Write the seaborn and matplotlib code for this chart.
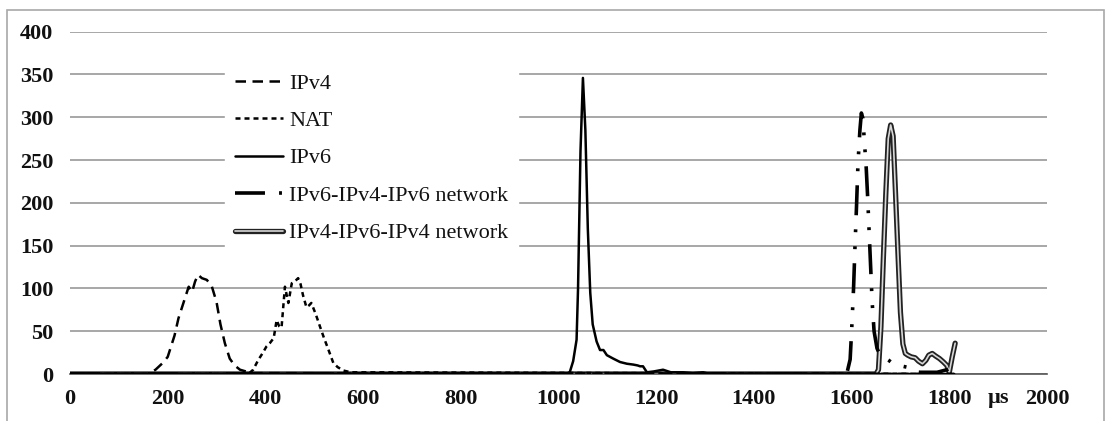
import matplotlib
matplotlib.use("Agg")
import matplotlib.pyplot as plt
import matplotlib.patheffects as pe
import seaborn as sns
import pandas as pd

# ---------------- data ----------------
ipv4_x = [0, 160, 175, 190, 200, 214, 222, 235, 243, 250, 256, 262, 270, 280, 290, 300, 308, 317, 327, 337, 348, 360, 375, 1810]
ipv4_y = [0, 0, 5, 13, 20, 45, 65, 88, 102, 96, 108, 116, 112, 110, 103, 84, 58, 36, 18, 10, 5, 3, 1, 0]

nat_x = [0, 365, 375, 385, 395, 402, 409, 417, 423, 428, 433, 440, 447, 454, 460, 467, 472, 477, 484, 489, 494, 503, 512, 520, 528, 539, 548, 560, 575, 1810]
nat_y = [0, 0, 5, 16, 25, 32, 36, 42, 63, 56, 54, 102, 83, 106, 108, 112, 105, 92, 78, 80, 83, 70, 55, 42, 30, 13, 8, 4, 2, 0]

ipv6_x = [0, 1015, 1023, 1030, 1037, 1040, 1045, 1050, 1055, 1060, 1065, 1070, 1078, 1085, 1092, 1099, 1112, 1126, 1140, 1153, 1162, 1167, 1173, 1181, 1195, 1214, 1230, 1255, 1275, 1296, 1310, 1810]
ipv6_y = [0, 0, 2, 15, 40, 100, 260, 346, 285, 170, 95, 58, 38, 28, 28, 22, 18, 14, 12, 11, 10, 9, 9, 2, 3, 5, 2, 2, 1, 2, 0, 0]

v646_x = [0, 1590, 1597, 1600, 1604, 1607, 1610, 1613, 1617, 1620, 1623, 1627, 1630, 1633, 1636, 1639, 1642, 1646, 1652, 1660, 1668, 1676, 1685, 1695, 1705, 1713, 1722, 1740, 1775, 1795, 1805, 1810]
v646_y = [0, 0, 17, 50, 100, 150, 195, 245, 285, 305, 299, 265, 240, 205, 165, 125, 85, 50, 30, 20, 19, 16, 12, 10, 9, 8, 3, 2, 2, 5, 8, 10]

v464_x = [0, 1650, 1655, 1660, 1665, 1670, 1675, 1680, 1685, 1690, 1695, 1700, 1705, 1710, 1715, 1722, 1730, 1737, 1745, 1752, 1758, 1765, 1772, 1780, 1788, 1795, 1800, 1806, 1812]
v464_y = [0, 0, 5, 55, 135, 210, 275, 291, 278, 210, 140, 72, 35, 24, 22, 20, 19, 15, 12, 16, 22, 24, 21, 18, 14, 10, 2, 20, 36]

labels = ["IPv4", "NAT", "IPv6", "IPv6-IPv4-IPv6 network", "IPv4-IPv6-IPv4 network"]
x_ticks = [0, 200, 400, 600, 800, 1000, 1200, 1400, 1600, 1800, 2000]
y_ticks = [0, 50, 100, 150, 200, 250, 300, 350, 400]
unit_label = "µs"

# ---------------- style ----------------
sns.set_style("white")
plt.rcParams["font.family"] = ["Liberation Serif", "DejaVu Serif"]

W, H = 1110, 421
fig = plt.figure(figsize=(W / 100, H / 100), dpi=100)
ax = fig.add_axes([70 / W, 47 / H, (1047 - 70) / W, (374 - 31.7) / H])

# figure border
fig.patches.append(plt.Rectangle((7 / W, -0.05), (1104 - 7) / W, (411 + 21) / H,
                                 transform=fig.transFigure, fill=False,
                                 edgecolor="#a8a8a8", lw=1.2, zorder=0))

series = [
    (ipv4_x, ipv4_y, labels[0]),
    (nat_x, nat_y, labels[1]),
    (ipv6_x, ipv6_y, labels[2]),
    (v646_x, v646_y, labels[3]),
    (v464_x, v464_y, labels[4]),
]

for xs, ys, lab in series:
    df = pd.DataFrame({"t": xs, "v": ys})
    sns.lineplot(data=df, x="t", y="v", ax=ax, estimator=None, sort=False,
                 color="black", label=lab)

lines = ax.get_lines()
# IPv4 long dash
lines[0].set_linewidth(1.8)
lines[0].set_linestyle((0, (4.2, 2.6)))
lines[0].set_zorder(4)
# NAT short dash
lines[1].set_linewidth(1.8)
lines[1].set_linestyle((0, (2.0, 1.6)))
lines[1].set_zorder(4)
# IPv6 solid
lines[2].set_linewidth(1.8)
lines[2].set_zorder(5)
# IPv6-IPv4-IPv6 dash-dot-dot thick
lines[3].set_linewidth(2.6)
lines[3].set_linestyle((0, (8.3, 3.9, 0.8, 3.9, 0.8, 3.9)))
lines[3].set_zorder(3)
# IPv4-IPv6-IPv4 double line
lines[4].set_linewidth(1.2)
lines[4].set_color("#d8d8d8")
lines[4].set_path_effects([pe.Stroke(linewidth=3.8, foreground="#222222"), pe.Normal()])
lines[4].set_zorder(2)

ax.set_xlim(0, 2000)
ax.set_ylim(0, 400)
ax.set_xticks(x_ticks)
ax.set_yticks(y_ticks)
ax.set_xticklabels([str(t) for t in x_ticks])
ax.set_yticklabels([str(t) for t in y_ticks])
ax.set_xlabel("")
ax.set_ylabel("")

ax.grid(axis="y", color="#a0a0a0", lw=1.3)
ax.grid(axis="x", visible=False)
ax.set_axisbelow(True)
for s in ["left", "right", "top"]:
    ax.spines[s].set_visible(False)
ax.spines["bottom"].set_color("#555555")
ax.spines["bottom"].set_linewidth(1.2)

ax.tick_params(axis="x", direction="out", length=5, width=1, color="#777777",
               pad=6, labelsize=16, labelcolor="#111111")
ax.tick_params(axis="y", length=0, pad=12, labelsize=16, labelcolor="#111111")
for t in ax.get_xticklabels() + ax.get_yticklabels():
    t.set_fontweight("bold")

ax.text(1900, -0.07, unit_label, transform=ax.get_xaxis_transform(),
        ha="center", va="center", fontsize=16, fontweight="bold", color="#111111")

leg = ax.legend(loc="upper left", bbox_to_anchor=((225 - 70) / (1047 - 70), 1 - (63 - 31.7) / (374 - 31.7)),
                frameon=True, fontsize=16, handlelength=2.16, handletextpad=0.27,
                labelspacing=0.76, borderpad=0.45, borderaxespad=0)
leg.get_frame().set_facecolor("white")
leg.get_frame().set_edgecolor("white")
leg.get_frame().set_alpha(1)
leg.get_frame().set_boxstyle("square", pad=0)
for t in leg.get_texts():
    t.set_color("#111111")

fig.savefig("out.png", dpi=100)
